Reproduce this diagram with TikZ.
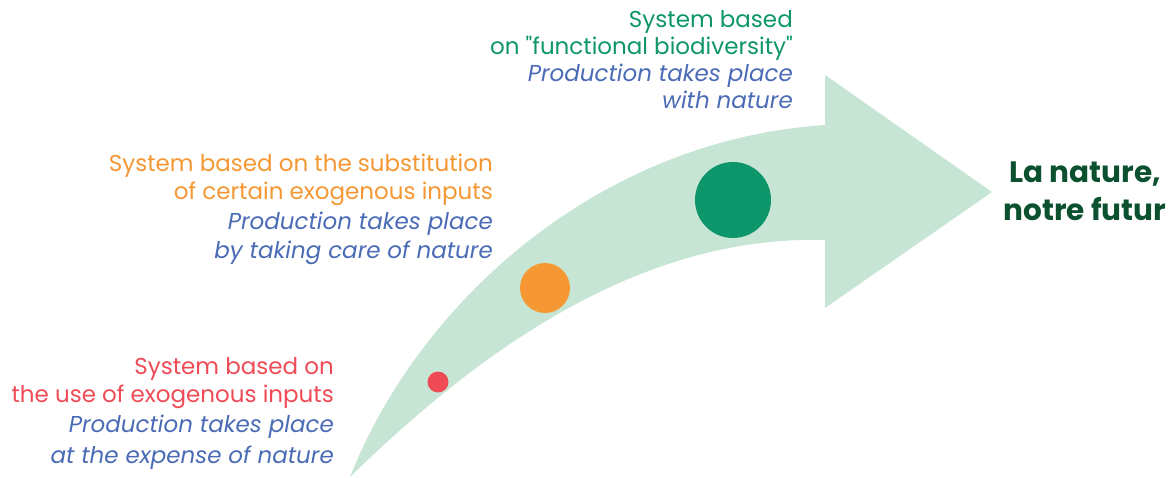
\documentclass[tikz,border=0pt]{standalone}
\usepackage{fontspec}
\setmainfont{Poppins}
\definecolor{arrowfill}{HTML}{C6E5D4}
\definecolor{stageone}{HTML}{EF4B56}
\definecolor{stagetwo}{HTML}{F59733}
\definecolor{stagethree}{HTML}{0D9669}
\definecolor{prodblue}{HTML}{4A6BB5}
\definecolor{futurgreen}{HTML}{0B5130}
\begin{document}
\begin{tikzpicture}[x=1pt,y=-1pt,
  label/.style={align=right,anchor=base east,inner sep=0pt,font=\fontsize{23}{28}\selectfont},
  dot/.style={circle,inner sep=0pt}]
\useasboundingbox (0,0) rectangle (1173,478);
% curved arrow
\fill[arrowfill] (350,477) .. controls (420,300) and (600,140) .. (825,125)
  -- (825,75) -- (992,192) -- (825,308) -- (825,240)
  .. controls (640,235) and (480,350) .. (350,477) -- cycle;
% stage markers
\node[dot,fill=stageone,minimum size=21pt] (d1) at (438,382) {};
\node[dot,fill=stagetwo,minimum size=50pt] (d2) at (545,288) {};
\node[dot,fill=stagethree,minimum size=76pt] (d3) at (733,200) {};
% stage descriptions (anchored on the baseline of their last line)
\node[label,font=\fontsize{23}{27}\selectfont] (t3) at (793,109) {\color{stagethree}System based\\ \color{stagethree}on \textquotedbl functional biodiversity\textquotedbl\\ \color{prodblue}\itshape Production takes place\\ \color{prodblue}\itshape with nature};
\node[label] (t2) at (493,259) {\color{stagetwo}System based on the substitution\\ \color{stagetwo}of certain exogenous inputs\\[2pt] \color{prodblue}\itshape Production takes place\\[1pt] \color{prodblue}\itshape by taking care of nature};
\node[label] (t1) at (334,463) {\color{stageone}System based on\\ \color{stageone}the use of exogenous inputs\\[2pt] \color{prodblue}\itshape Production takes place\\[3pt] \color{prodblue}\itshape at the expense of nature};
% goal
\node[align=center,anchor=base,inner sep=0pt,text=futurgreen,font=\fontsize{29.5}{38}\selectfont\bfseries] (goal) at (1085,221) {La nature,\\notre futur};
\end{tikzpicture}
\end{document}
